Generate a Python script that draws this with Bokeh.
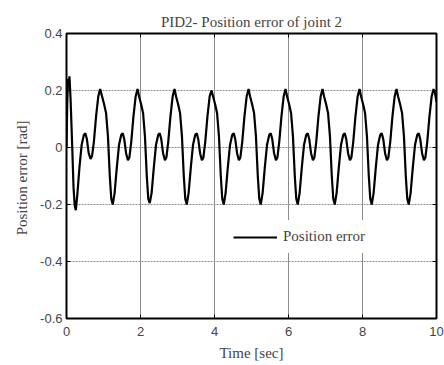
from bokeh.plotting import figure
from bokeh.models import FixedTicker, Legend, LegendItem, LinearAxis, Range1d, ColumnDataSource
from bokeh.embed import file_html
from bokeh.resources import INLINE

title_text = "PID2- Position error of joint 2"
x_label = "Time [sec]"
y_label = "Position  error [rad]"
series_name = "Position error"

x_ticks = [0, 2, 4, 6, 8, 10]
x_tick_labels = ["0", "2", "4", "6", "8", "10"]
y_ticks = [-0.6, -0.4, -0.2, 0, 0.2, 0.4]
y_tick_labels = ["-0.6", "-0.4", "-0.2", "0", "0.2", "0.4"]

time = [
    0.00, 0.02, 0.04, 0.06, 0.08, 0.11, 0.15, 0.19, 0.22, 0.25, 0.29, 0.35, 0.41, 0.47, 0.51, 0.55, 0.60, 0.65, 0.69, 0.74, 0.80, 0.86, 0.91,
    0.96, 1.02, 1.07, 1.12, 1.17, 1.21, 1.25, 1.30, 1.36, 1.42, 1.48, 1.52, 1.56, 1.61, 1.66, 1.70, 1.75, 1.81, 1.87, 1.92,
    1.96, 2.02, 2.07, 2.12, 2.17, 2.21, 2.25, 2.30, 2.36, 2.42, 2.48, 2.52, 2.56, 2.61, 2.66, 2.70, 2.75, 2.81, 2.87, 2.92,
    2.96, 3.02, 3.07, 3.12, 3.17, 3.21, 3.25, 3.30, 3.36, 3.42, 3.48, 3.52, 3.56, 3.61, 3.66, 3.70, 3.75, 3.81, 3.87, 3.92,
    3.96, 4.02, 4.07, 4.12, 4.17, 4.21, 4.25, 4.30, 4.36, 4.42, 4.48, 4.52, 4.56, 4.61, 4.66, 4.70, 4.75, 4.81, 4.87, 4.92,
    4.96, 5.02, 5.07, 5.12, 5.17, 5.21, 5.25, 5.30, 5.36, 5.42, 5.48, 5.52, 5.56, 5.61, 5.66, 5.70, 5.75, 5.81, 5.87, 5.92,
    5.96, 6.02, 6.07, 6.12, 6.17, 6.21, 6.25, 6.30, 6.36, 6.42, 6.48, 6.52, 6.56, 6.61, 6.66, 6.70, 6.75, 6.81, 6.87, 6.92,
    6.96, 7.02, 7.07, 7.12, 7.17, 7.21, 7.25, 7.30, 7.36, 7.42, 7.48, 7.52, 7.56, 7.61, 7.66, 7.70, 7.75, 7.81, 7.87, 7.92,
    7.96, 8.02, 8.07, 8.12, 8.17, 8.21, 8.25, 8.30, 8.36, 8.42, 8.48, 8.52, 8.56, 8.61, 8.66, 8.70, 8.75, 8.81, 8.87, 8.92,
    8.96, 9.02, 9.07, 9.12, 9.17, 9.21, 9.25, 9.30, 9.36, 9.42, 9.48, 9.52, 9.56, 9.61, 9.66, 9.70, 9.75, 9.81, 9.87, 9.92,
    9.96, 10.00,
]

position_error = [
    0.00, 0.15, 0.24, 0.22, 0.25, 0.17, 0.02, -0.14, -0.20, -0.22, -0.17, -0.07, 0.01, 0.045, 0.05, 0.03, -0.02, -0.04, -0.03, 0.02, 0.11, 0.18, 0.205,
    0.18, 0.15, 0.12, 0.04, -0.10, -0.18, -0.20, -0.16, -0.07, 0.01, 0.045, 0.05, 0.03, -0.02, -0.045, -0.035, 0.02, 0.11, 0.18, 0.205,
    0.18, 0.15, 0.12, 0.04, -0.10, -0.18, -0.195, -0.16, -0.07, 0.01, 0.045, 0.05, 0.03, -0.02, -0.045, -0.035, 0.02, 0.11, 0.18, 0.205,
    0.18, 0.15, 0.12, 0.04, -0.10, -0.18, -0.20, -0.16, -0.07, 0.01, 0.045, 0.05, 0.03, -0.02, -0.045, -0.035, 0.02, 0.11, 0.18, 0.20,
    0.18, 0.15, 0.12, 0.04, -0.10, -0.18, -0.20, -0.16, -0.07, 0.01, 0.045, 0.05, 0.03, -0.02, -0.045, -0.035, 0.02, 0.11, 0.18, 0.205,
    0.18, 0.15, 0.12, 0.04, -0.10, -0.18, -0.20, -0.16, -0.07, 0.01, 0.045, 0.05, 0.03, -0.02, -0.045, -0.035, 0.02, 0.11, 0.18, 0.205,
    0.18, 0.15, 0.12, 0.04, -0.10, -0.18, -0.20, -0.16, -0.07, 0.01, 0.045, 0.05, 0.03, -0.02, -0.045, -0.035, 0.02, 0.11, 0.18, 0.205,
    0.18, 0.15, 0.12, 0.04, -0.10, -0.18, -0.20, -0.16, -0.07, 0.01, 0.045, 0.05, 0.03, -0.02, -0.045, -0.035, 0.02, 0.11, 0.18, 0.205,
    0.18, 0.15, 0.12, 0.04, -0.10, -0.18, -0.20, -0.16, -0.07, 0.01, 0.045, 0.05, 0.03, -0.02, -0.045, -0.035, 0.02, 0.11, 0.18, 0.205,
    0.18, 0.15, 0.12, 0.04, -0.10, -0.18, -0.20, -0.16, -0.07, 0.01, 0.045, 0.05, 0.03, -0.02, -0.045, -0.035, 0.02, 0.11, 0.18, 0.205,
    0.19, 0.16,
]

serif = "Liberation Serif"
sans = "Liberation Sans"

p = figure(
    width=444, height=365, output_backend="svg", toolbar_location=None,
    x_range=Range1d(0, 10), y_range=Range1d(-0.6, 0.4),
    min_border_left=66, min_border_right=8, min_border_top=33, min_border_bottom=47,
    frame_width=370, frame_height=285,
)
p.title.text = title_text
p.title.text_font = serif
p.title.text_font_size = "15px"
p.title.text_font_style = "normal"
p.title.align = "center"
p.title.offset = 0
p.title.standoff = 7

p.background_fill_color = "white"
p.border_fill_color = "white"
p.outline_line_color = "black"
p.outline_line_width = 2

for ax in (p.xaxis[0], p.yaxis[0]):
    ax.axis_line_color = None
    ax.major_tick_in = 4
    ax.major_tick_out = 0
    ax.minor_tick_line_color = None
    ax.major_tick_line_color = "black"
    ax.major_label_text_font = sans
    ax.major_label_text_font_size = "13px"
    ax.axis_label_text_font = serif
    ax.axis_label_text_font_size = "15px"
    ax.axis_label_text_font_style = "normal"

p.xaxis[0].ticker = FixedTicker(ticks=x_ticks)
p.xaxis[0].major_label_overrides = dict(zip(x_ticks, x_tick_labels))
p.xaxis[0].axis_label = x_label
p.xaxis[0].major_label_standoff = 8
p.xaxis[0].axis_label_standoff = 6

p.yaxis[0].ticker = FixedTicker(ticks=y_ticks)
p.yaxis[0].major_label_overrides = dict(zip(y_ticks, y_tick_labels))
p.yaxis[0].axis_label = y_label
p.yaxis[0].major_label_standoff = 4
p.yaxis[0].axis_label_standoff = 7

right_ax = LinearAxis(ticker=FixedTicker(ticks=y_ticks),
                      major_label_overrides={t: "" for t in y_ticks},
                      axis_line_color=None, major_tick_in=4, major_tick_out=0,
                      minor_tick_line_color=None)
top_ax = LinearAxis(ticker=FixedTicker(ticks=x_ticks),
                    major_label_overrides={t: "" for t in x_ticks},
                    axis_line_color=None, major_tick_in=4, major_tick_out=0,
                    minor_tick_line_color=None)
p.add_layout(right_ax, "right")
p.add_layout(top_ax, "above")

p.xgrid.ticker = FixedTicker(ticks=x_ticks)
p.ygrid.ticker = FixedTicker(ticks=y_ticks)
p.xgrid.grid_line_color = "#8c8c8c"
p.xgrid.grid_line_width = 1
p.ygrid.grid_line_color = "#8c8c8c"
p.ygrid.grid_line_width = 1
p.ygrid.grid_line_dash = "2 1"

src = ColumnDataSource(dict(t=time, e=position_error))
r = p.line("t", "e", source=src, line_color="black", line_width=2.2)

legend = Legend(items=[LegendItem(label=series_name, renderers=[r])],
                location=(159, 65), orientation="vertical")
legend.label_text_font = serif
legend.label_text_font_size = "15px"
legend.border_line_alpha = 0
legend.background_fill_color = "white"
legend.background_fill_alpha = 1
legend.glyph_width = 44
legend.glyph_height = 16
legend.label_standoff = 6
legend.padding = 8
legend.margin = 0
legend.spacing = 0
p.add_layout(legend, "center")

open("out.html", "w").write(file_html(p, INLINE))
